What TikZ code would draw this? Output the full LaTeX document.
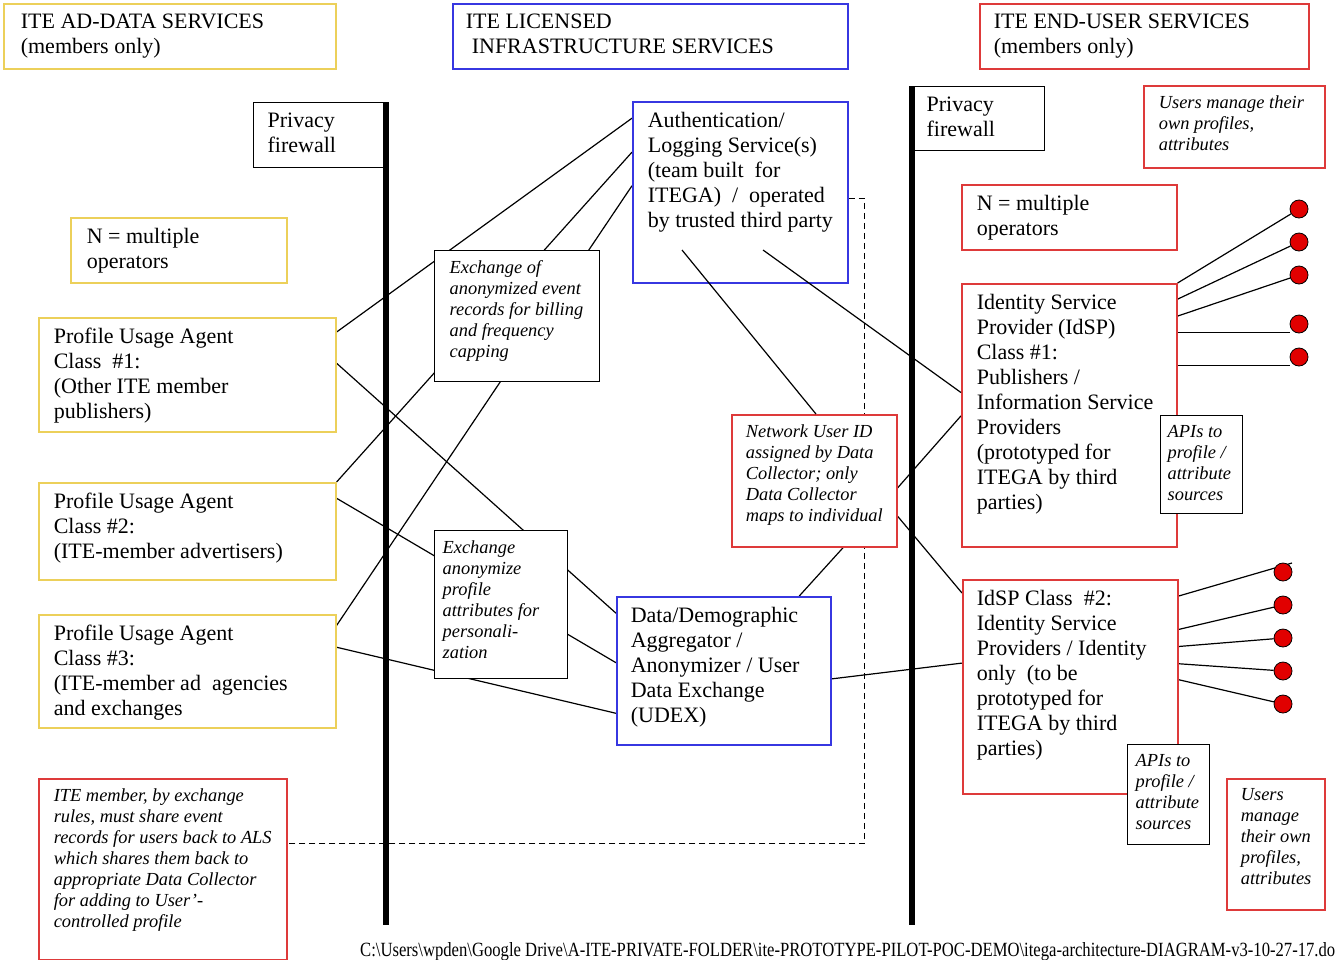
\documentclass[tikz,border=0pt]{standalone}
\usepackage{fontspec}
\usepackage{graphicx}
\setmainfont{Liberation Serif}
\usetikzlibrary{calc, backgrounds}
\definecolor{ybord}{RGB}{236,208,90}
\definecolor{bbord}{RGB}{55,55,225}
\definecolor{rbord}{RGB}{222,58,58}
\definecolor{dotred}{RGB}{225,0,0}
% width, height, left margin, text
\newcommand{\boxtext}[4]{\parbox[t][#2pt][t]{#1pt}{\raggedright\leftskip=#3pt #4}}

\begin{document}
\begin{tikzpicture}[x=1pt, y=-1pt,
    box/.style={draw, line width=1.6pt, fill=white, anchor=north west, inner xsep=0pt, inner ysep=10pt, font=\fontsize{22}{25}\selectfont},
    ybox/.style={box, draw=ybord},
    bbox/.style={box, draw=bbord},
    rbox/.style={box, draw=rbord},
    kbox/.style={box, draw=black, line width=1.3pt},
    ital/.style={font=\fontsize{18.4}{21}\selectfont\itshape},
    link/.style={line width=1.2pt},
    wall/.style={line width=6pt},
    dot/.style={circle, draw=black, line width=0.8pt, fill=dotred, minimum size=18pt, inner sep=0pt}]

    \useasboundingbox (0,0) rectangle (1335,959);

    % Header boxes
    \node[ybox] (hdad) at (3,3) {\boxtext{332}{45}{17}{ITE AD-DATA SERVICES\\(members only)}};
    \node[bbox] (hdlic) at (452,3) {\boxtext{395}{45}{13}{ITE LICENSED\\\hspace*{6pt}INFRASTRUCTURE SERVICES}};
    \node[rbox] (hdeu) at (979,3) {\boxtext{329}{45}{14}{ITE END-USER SERVICES\\(members only)}};

    % Firewall labels
    \node[kbox] (fwad) at (253,102) {\boxtext{132}{45}{14}{Privacy\\firewall}};
    \node[kbox] (fweu) at (912,86) {\boxtext{132}{44}{14}{Privacy\\firewall}};

    % Ad-data side
    \node[ybox] (nad) at (70,217) {\boxtext{216}{45}{16}{N = multiple\\operators}};
    \node[ybox] (pua1) at (38,317) {\boxtext{297}{94}{15}{Profile Usage Agent\\Class~ \#1:\\(Other ITE member\\publishers)}};
    \node[ybox] (pua2) at (38,482) {\boxtext{297}{77}{15}{Profile Usage Agent\\Class \#2:\\(ITE-member advertisers)}};
    \node[ybox] (pua3) at (38,614) {\boxtext{297}{93}{15}{Profile Usage Agent\\Class \#3:\\(ITE-member ad~ agencies\\and exchanges}};
    \node[rbox, ital] (rules) at (38,778) {\boxtext{248}{161}{15}{ITE member, by exchange\\rules, must share event\\records for users back to ALS\\which shares them back to\\appropriate Data Collector\\for adding to User'-\\controlled profile}};

    % Infrastructure
    \node[kbox, ital] (exev) at (434,250) {\boxtext{165}{111}{15}{Exchange of\\anonymized event\\records for billing\\and frequency\\capping}};
    \node[kbox, ital] (expr) at (434,530) {\boxtext{133}{128}{8}{Exchange\\anonymize\\profile\\attributes for\\personali-\\zation}};
    \node[bbox] (als) at (632,101) {\boxtext{215}{161}{15}{Authentication/\\Logging Service(s)\\(team built~ for\\ITEGA)~ /~ operated\\by trusted third party}};
    \node[rbox, ital] (nuid) at (731,414) {\boxtext{165}{112}{14}{Network User ID\\assigned by Data\\Collector; only\\Data Collector\\maps to individual}};
    \node[bbox] (udex) at (616,596) {\boxtext{214}{128}{14}{Data/Demographic\\Aggregator /\\Anonymizer / User\\Data Exchange\\(UDEX)}};

    % End-user side
    \node[rbox, ital] (usrtop) at (1143,85) {\boxtext{181}{62}{15}{Users manage their\\own profiles,\\attributes}};
    \node[rbox] (neu) at (961,184) {\boxtext{215}{45}{15}{N = multiple\\operators}};
    \node[rbox] (idsp1) at (961,283) {\boxtext{215}{243}{15}{Identity Service\\Provider (IdSP)\\Class \#1:\\Publishers /\\Information Service\\Providers\\(prototyped for\\ITEGA by third\\parties)}};
    \node[kbox, ital] (api1) at (1160,415) {\boxtext{82}{78}{7}{APIs to\\profile /\\attribute\\sources}};
    \node[rbox] (idsp2) at (962,579) {\boxtext{215}{194}{14}{IdSP Class~ \#2:\\Identity Service\\Providers / Identity\\only~ (to be\\prototyped for\\ITEGA by third\\parties)}};
    \node[kbox, ital] (api2) at (1127,744) {\boxtext{82}{80}{8}{APIs to\\profile /\\attribute\\sources}};
    \node[rbox, ital] (usrbot) at (1226,778) {\boxtext{98}{111}{14}{Users\\manage\\their own\\profiles,\\attributes}};

    % Attribute sources
    \foreach \y [count=\i] in {209,242,275,324,357} \node[dot] (t\i) at (1299,\y) {};
    \foreach \y [count=\i] in {572,605,638,671,704} \node[dot] (b\i) at (1283,\y) {};

    % Links behind the boxes
    \begin{scope}[on background layer]
        \draw[link] ($(als.north west)!0.094!(als.south west)$) -- ($(pua1.north east)!0.13!(pua1.south east)$);
        \draw[link] ($(als.north west)!0.28!(als.south west)$) -- (pua2.north east);
        \draw[link] ($(als.north west)!0.464!(als.south west)$) -- ($(pua3.north east)!0.1!(pua3.south east)$);
        \draw[link] ($(pua1.north east)!0.4!(pua1.south east)$) -- ($(udex.north west)!0.115!(udex.south west)$);
        \draw[link] ($(pua2.north east)!0.165!(pua2.south east)$) -- ($(udex.north west)!0.446!(udex.south west)$);
        \draw[link] ($(pua3.north east)!0.29!(pua3.south east)$) -- ($(udex.north west)!0.784!(udex.south west)$);
        \draw[link] ($(nuid.south west)!0.673!(nuid.south east)$) -- ($(udex.north west)!0.85!(udex.north east)$);
        \draw[link] ($(nuid.north east)!0.553!(nuid.south east)$) -- ($(idsp1.north west)!0.502!(idsp1.south west)$);
        \draw[link] ($(nuid.north east)!0.765!(nuid.south east)$) -- ($(idsp2.north west)!0.065!(idsp2.south west)$);
        \draw[link] ($(udex.north east)!0.554!(udex.south east)$) -- ($(idsp2.north west)!0.39!(idsp2.south west)$);
        \draw[link, dash pattern=on 6pt off 4pt] ($(als.north east)!0.536!(als.south east)$) -- ++(16,0) |- ($(rules.north east)!0.36!(rules.south east)$);
        \foreach \f [count=\i] in {0,0.061,0.125}
            \draw[link] ($(idsp1.north east)!\f!(idsp1.south east)$) -- (t\i);
        \foreach \f [count=\i from 4] in {0.186,0.312}
            \draw[link] ($(idsp1.north east)!\f!(idsp1.south east)$) coordinate (s\i) -- (s\i -| t\i.west);
        \draw[link] ($(idsp2.north east)!0.079!(idsp2.south east)$) -- ($(b1)+(9,-9)$);
        \foreach \f [count=\i from 2] in {0.234,0.313,0.393,0.467}
            \draw[link] ($(idsp2.north east)!\f!(idsp2.south east)$) -- (b\i);
    \end{scope}

    % Links out of the ALS box
    \draw[link] ($(als.north west)+(50,149)$) -- ($(nuid.north west)!0.51!(nuid.north east)$);
    \draw[link] ($(als.north west)+(131,149)$) -- ($(idsp1.north west)!0.414!(idsp1.south west)$);

    % Privacy firewalls
    \draw[wall] (fwad.north east) -- ++(0,823);
    \draw[wall] (fweu.north west) -- ++(0,839);

    % File path
    \node[anchor=base west, inner sep=0pt] (path) at (360,956) {\resizebox{975pt}{14pt}{C:\textbackslash Users\textbackslash wpden\textbackslash Google Drive\textbackslash A-ITE-PRIVATE-FOLDER\textbackslash ite-PROTOTYPE-PILOT-POC-DEMO\textbackslash itega-architecture-DIAGRAM-v3-10-27-17.do}};

\end{tikzpicture}
\end{document}
